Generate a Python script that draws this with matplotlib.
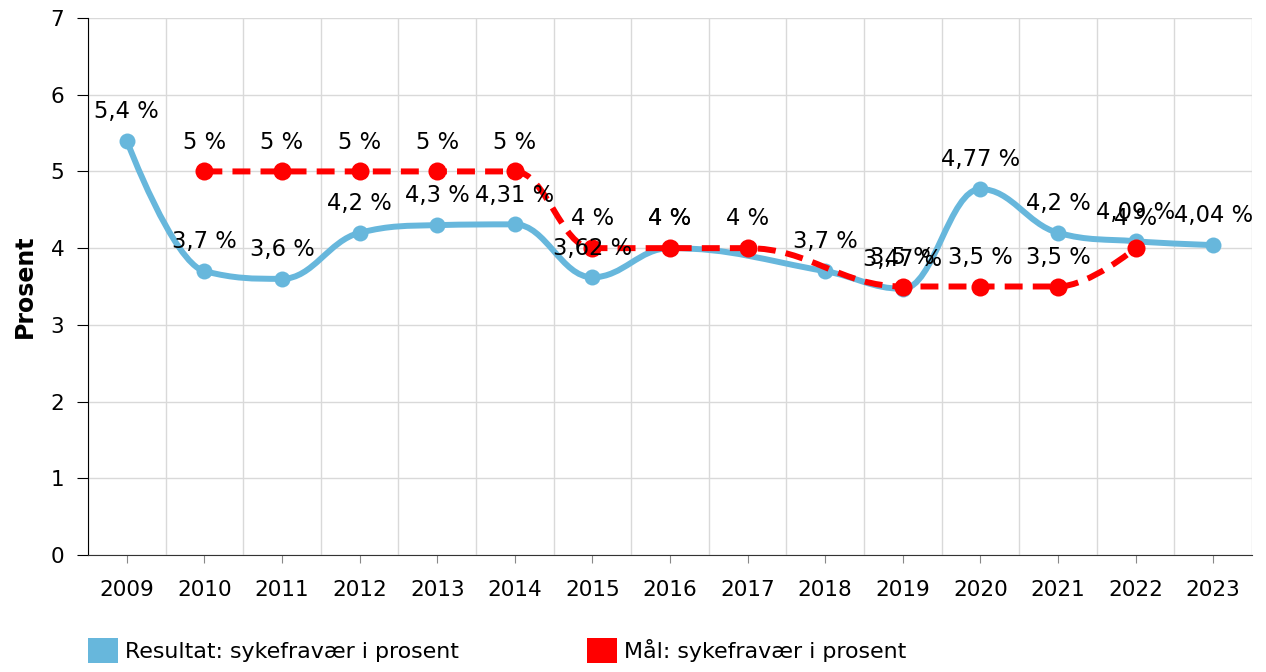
import numpy as np
import matplotlib.pyplot as plt
from matplotlib.path import Path
from matplotlib.patches import PathPatch, Patch

years = ["2009", "2010", "2011", "2012", "2013", "2014", "2015", "2016",
         "2017", "2018", "2019", "2020", "2021", "2022", "2023"]
resultat = [5.4, 3.7, 3.6, 4.2, 4.3, 4.31, 3.62, 4.0, None, 3.7, 3.47, 4.77, 4.2, 4.09, 4.04]
maal = [None, 5, 5, 5, 5, 5, 4, 4, 4, None, 3.5, 3.5, 3.5, 4, None]

BLUE = "#67b7dc"
RED = "#ff0000"


def spline_path(xs, ys):
    # Highcharts-like spline: cubic bezier through points, no false extremes
    sm = 1.5
    den = sm + 1
    n = len(xs)
    right = [None] * n
    verts = [(xs[0], ys[0])]
    codes = [Path.MOVETO]
    for i in range(1, n):
        x, y = xs[i], ys[i]
        lx, ly = xs[i - 1], ys[i - 1]
        lcx, lcy = x, y
        if i < n - 1:
            nx, ny = xs[i + 1], ys[i + 1]
            lcx = (sm * x + lx) / den
            lcy = (sm * y + ly) / den
            rcx = (sm * x + nx) / den
            rcy = (sm * y + ny) / den
            corr = 0.0
            if rcx != lcx:
                corr = (rcy - lcy) * (rcx - x) / (rcx - lcx) + y - rcy
            lcy += corr
            rcy += corr
            if lcy > ly and lcy > y:
                lcy = max(ly, y)
                rcy = 2 * y - lcy
            elif lcy < ly and lcy < y:
                lcy = min(ly, y)
                rcy = 2 * y - lcy
            if rcy > ny and rcy > y:
                rcy = max(ny, y)
                lcy = 2 * y - rcy
            elif rcy < ny and rcy < y:
                rcy = min(ny, y)
                lcy = 2 * y - rcy
            right[i] = (rcx, rcy)
        p1 = right[i - 1] if right[i - 1] is not None else (lx, ly)
        verts += [p1, (lcx, lcy), (x, y)]
        codes += [Path.CURVE4] * 3
    return Path(verts, codes)


def fmt(v):
    s = ("%g" % v).replace(".", ",")
    return s + " %"


fig = plt.figure(figsize=(12.66, 6.72), dpi=100)
ax = fig.add_axes([88 / 1266, 1 - 555 / 672, (1252 - 88) / 1266, (555 - 18) / 672])

series = [(resultat, BLUE, "-", 11.5, 2), (maal, RED, (0, (3, 1.7)), 13, 4)]
for vals, col, ls, ms, z in series:
    xs = [i for i, v in enumerate(vals) if v is not None]
    ys = [v for v in vals if v is not None]
    patch = PathPatch(spline_path(xs, ys), facecolor="none", edgecolor=col,
                      lw=4.3, linestyle=ls, zorder=z, capstyle="butt")
    ax.add_patch(patch)
    ax.plot(xs, ys, "o", color=col, ms=ms, mew=0, zorder=z + 1)
    for x, y in zip(xs, ys):
        ax.annotate(fmt(y), (x, y), xytext=(0, 21), textcoords="offset points",
                    ha="center", va="center", fontsize=16.3, color="black", zorder=10)

ax.set_xlim(-0.5, len(years) - 0.5)
ax.set_ylim(0, 7)
ax.set_xticks(range(len(years)))
ax.set_xticklabels(years)
ax.set_xticks(np.arange(len(years) + 1) - 0.5, minor=True)
ax.set_yticks(range(8))
ax.grid(True, which="minor", axis="x", color="#d9d9d9", lw=1)
ax.grid(True, which="major", axis="y", color="#d9d9d9", lw=1)
ax.set_axisbelow(True)
ax.tick_params(axis="x", which="major", length=6, color="#888888", pad=12, labelsize=15.5)
ax.tick_params(axis="x", which="minor", length=0)
ax.tick_params(axis="y", length=8, color="black", pad=9, labelsize=15.5)
for s in ["top", "right"]:
    ax.spines[s].set_visible(False)
ax.spines["left"].set_color("black")
ax.spines["bottom"].set_color("#333333")
ax.set_ylabel("Prosent", fontsize=17, fontweight="bold", labelpad=10)

handles = [Patch(facecolor=BLUE, edgecolor="none"), Patch(facecolor=RED, edgecolor="none")]
fig.legend(handles, ["Resultat: sykefravær i prosent", "Mål: sykefravær i prosent"],
           loc="upper left", bbox_to_anchor=(88 / 1266, 1 - 638 / 672), ncol=2,
           frameon=False, fontsize=15.9, handlelength=1.35, handleheight=1.35,
           handletextpad=0.33, columnspacing=5.8, borderpad=0, borderaxespad=0)

fig.savefig("out.png", dpi=100)
